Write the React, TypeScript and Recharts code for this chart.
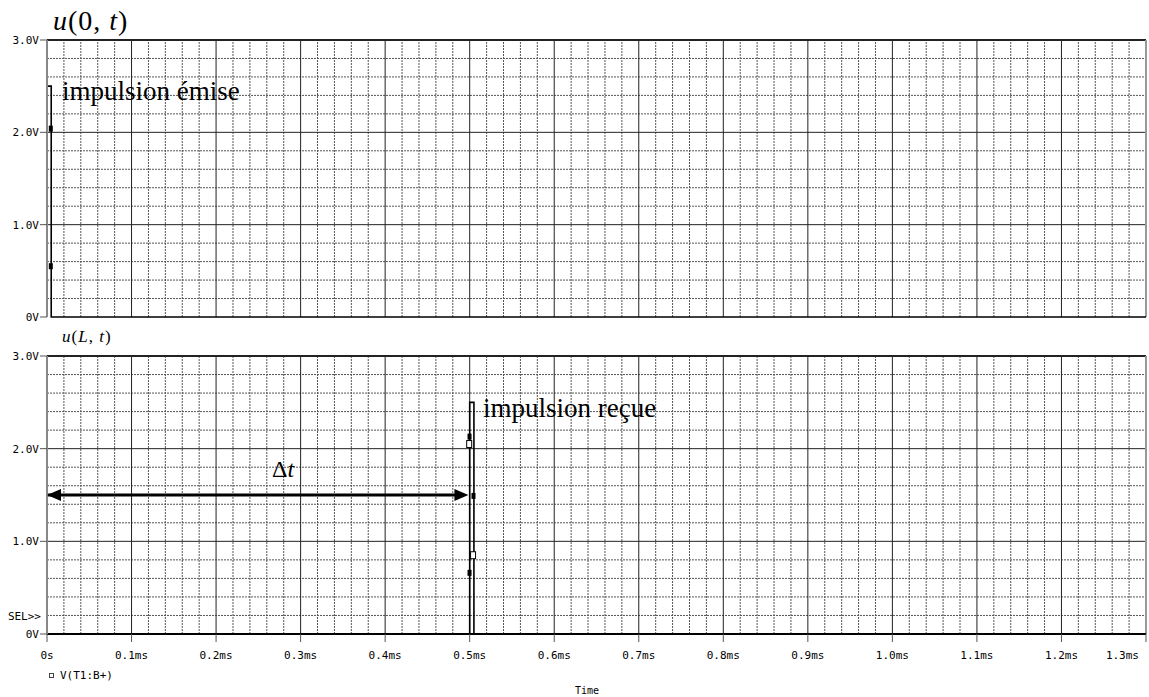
import React from "react";
import {
  ComposedChart,
  Line,
  Scatter,
  XAxis,
  YAxis,
  ReferenceLine,
} from "recharts";

// time axis (ms) and voltage axis (V)
const timeTicks = [0, 0.1, 0.2, 0.3, 0.4, 0.5, 0.6, 0.7, 0.8, 0.9, 1.0, 1.1, 1.2, 1.3];
const voltTicks = [0, 1, 2, 3];
const timeLabels = ["0s", "0.1ms", "0.2ms", "0.3ms", "0.4ms", "0.5ms", "0.6ms", "0.7ms", "0.8ms", "0.9ms", "1.0ms", "1.1ms", "1.2ms", "1.3ms"];
const voltLabels = ["0V", "1.0V", "2.0V", "3.0V"];

// u(0,t) : emitted pulse
const emisT = [0, 0, 0.005, 0.005, 1.3];
const emisV = [0, 2.5, 2.5, 0, 0];
// u(L,t) : received pulse
const recuT = [0, 0.5, 0.5, 0.505, 0.505, 1.3];
const recuV = [0, 0, 2.5, 2.5, 0, 0];

// trace markers
const emisMarkT = [0.0045, 0.0045];
const emisMarkV = [2.04, 0.55];
const emisMarkFilled = [true, true];
const recuMarkT = [0.4998, 0.4994, 0.5045, 0.504, 0.4998];
const recuMarkV = [2.13, 2.05, 1.49, 0.85, 0.66];
const recuMarkFilled = [true, false, true, false, true];

// delta t arrow
const arrowT = [0, 0.4985];
const arrowV = [1.5, 1.5];
const arrowDir = ["left", "right"];

const W = 1149;
const mono = "'DejaVu Sans Mono', monospace";
const serif = "'Liberation Serif', 'Times New Roman', serif";

// minor grid: 5 subdivisions per major step
const minorOf = (major: number[]) => {
  const out: number[] = [];
  for (let i = 0; i < major.length - 1; i++) {
    const step = (major[i + 1] - major[i]) / 5;
    for (let k = 1; k < 5; k++) out.push(+(major[i] + k * step).toFixed(4));
  }
  return out;
};
const timeMinor = minorOf(timeTicks);
const voltMinor = minorOf(voltTicks);
const timeMajorInner = timeTicks.slice(1, -1);
const voltMajorInner = voltTicks.slice(1, -1);

const toPoints = (ts: number[], vs: number[]) => ts.map((t, i) => ({ t, v: vs[i] }));

const MarkerShape = (props: any) => {
  const { cx, cy, payload } = props;
  if (cx == null || cy == null) return null;
  return payload.filled ? (
    <rect x={cx - 2} y={cy - 3} width={4} height={6} fill="#000" />
  ) : (
    <rect x={cx - 2.5} y={cy - 3.5} width={5} height={7} fill="#fff" stroke="#000" strokeWidth={1} />
  );
};

const ArrowHead = (props: any) => {
  const { cx, cy, payload } = props;
  if (cx == null || cy == null) return null;
  const s = payload.dir === "left" ? 1 : -1;
  return <polygon points={`${cx},${cy} ${cx + s * 14},${cy - 6} ${cx + s * 14},${cy + 6}`} fill="#000" />;
};

const YTick = (props: any) => {
  const { x, y, payload } = props;
  const idx = voltTicks.indexOf(payload.value);
  return (
    <text x={x} y={y} dy={4} textAnchor="end" fontFamily={mono} fontSize={11} fill="#000">
      {voltLabels[idx]}
    </text>
  );
};

const XTick = (props: any) => {
  const { x, y, payload } = props;
  const idx = timeTicks.indexOf(payload.value);
  const last = idx === timeTicks.length - 1;
  return (
    <text x={x} y={y} dy={11} textAnchor={last ? "end" : "middle"} fontFamily={mono} fontSize={11} fill="#000">
      {timeLabels[idx]}
    </text>
  );
};

function Panel({
  height,
  margin,
  trace,
  marks,
  showTime,
  arrow,
}: {
  height: number;
  margin: { top: number; right: number; bottom: number; left: number };
  trace: { t: number; v: number }[];
  marks: { t: number; v: number; filled: boolean }[];
  showTime: boolean;
  arrow?: boolean;
}) {
  return (
    <ComposedChart width={W} height={height} margin={margin}>
      <XAxis
        type="number"
        dataKey="t"
        domain={[0, 1.3]}
        ticks={timeTicks}
        allowDataOverflow
        height={showTime ? 30 : 0}
        tick={showTime ? <XTick /> : false}
        tickSize={8}
        tickMargin={6}
        tickLine={showTime ? { stroke: "#555" } : false}
        axisLine={{ stroke: "#000", strokeWidth: 2 }}
      />
      <YAxis
        type="number"
        dataKey="v"
        domain={[0, 3]}
        ticks={voltTicks}
        width={47}
        tick={<YTick />}
        tickSize={7}
        tickMargin={1}
        tickLine={{ stroke: "#555" }}
        axisLine={{ stroke: "#888", strokeWidth: 2 }}
      />
      {timeMinor.map((t) => (
        <ReferenceLine key={"tm" + t} x={t} stroke="#555" strokeDasharray="2 1" />
      ))}
      {voltMinor.map((v) => (
        <ReferenceLine key={"vm" + v} y={v} stroke="#555" strokeDasharray="2 1" />
      ))}
      {timeMajorInner.map((t) => (
        <ReferenceLine key={"tM" + t} x={t} stroke="#222" />
      ))}
      {voltMajorInner.map((v) => (
        <ReferenceLine key={"vM" + v} y={v} stroke="#222" />
      ))}
      <ReferenceLine y={3} stroke="#222" strokeWidth={2} />
      <ReferenceLine x={1.3} stroke="#999" strokeWidth={2} />
      <Line
        data={trace}
        dataKey="v"
        type="linear"
        stroke="#000"
        strokeWidth={1.6}
        dot={false}
        isAnimationActive={false}
      />
      {arrow && (
        <Line
          data={toPoints([0, 0.49], arrowV)}
          dataKey="v"
          type="linear"
          stroke="#000"
          strokeWidth={3}
          dot={false}
          isAnimationActive={false}
        />
      )}
      {arrow && (
        <Scatter
          data={arrowT.map((t, i) => ({ t, v: arrowV[i], dir: arrowDir[i] }))}
          dataKey="v"
          shape={<ArrowHead />}
          isAnimationActive={false}
        />
      )}
      <Scatter data={marks} dataKey="v" shape={<MarkerShape />} isAnimationActive={false} />
    </ComposedChart>
  );
}

export default function App() {
  const emis = toPoints(emisT, emisV);
  const recu = toPoints(recuT, recuV);
  const emisMarks = emisMarkT.map((t, i) => ({ t, v: emisMarkV[i], filled: emisMarkFilled[i] }));
  const recuMarks = recuMarkT.map((t, i) => ({ t, v: recuMarkV[i], filled: recuMarkFilled[i] }));

  return (
    <div style={{ position: "absolute", left: 0, top: 0, width: W, height: 697, background: "#fff" }}>
      <div style={{ position: "absolute", left: 0, top: 0 }}>
        <Panel
          height={330}
          margin={{ top: 40, right: 3, bottom: 13, left: 0 }}
          trace={emis}
          marks={emisMarks}
          showTime={false}
        />
      </div>
      <div style={{ position: "absolute", left: 0, top: 330 }}>
        <Panel
          height={367}
          margin={{ top: 26, right: 3, bottom: 33, left: 0 }}
          trace={recu}
          marks={recuMarks}
          showTime={true}
          arrow
        />
      </div>
      <svg
        width={W}
        height={697}
        style={{ position: "absolute", left: 0, top: 0, pointerEvents: "none" }}
      >
        <text x={53} y={30} fontFamily={serif} fontSize={28} fill="#000" letterSpacing={1}>
          <tspan fontStyle="italic">u</tspan>
          <tspan>(0, </tspan>
          <tspan fontStyle="italic">t</tspan>
          <tspan>)</tspan>
        </text>
        <text x={62} y={342} fontFamily={serif} fontSize={17} fill="#000" letterSpacing={1}>
          <tspan fontStyle="italic">u</tspan>
          <tspan>(</tspan>
          <tspan fontStyle="italic">L</tspan>
          <tspan>, </tspan>
          <tspan fontStyle="italic">t</tspan>
          <tspan>)</tspan>
        </text>
        <text x={62} y={100} fontFamily={serif} fontSize={27} fill="#000">
          impulsion émise
        </text>
        <text x={483} y={417} fontFamily={serif} fontSize={27} fill="#000">
          impulsion reçue
        </text>
        <text x={272} y={477} fontFamily={serif} fontSize={24} fill="#000">
          <tspan>Δ</tspan>
          <tspan fontStyle="italic">t</tspan>
        </text>
        <text x={41} y={620} textAnchor="end" fontFamily={mono} fontSize={11} fill="#000">
          SEL&gt;&gt;
        </text>
        <rect x={49.5} y={673.5} width={4} height={4} fill="#fff" stroke="#444" strokeWidth={1} />
        <text x={60} y={679} fontFamily={mono} fontSize={11} fill="#000">
          V(T1:B+)
        </text>
        <text x={587} y={694} textAnchor="middle" fontFamily={mono} fontSize={10} fill="#000">
          Time
        </text>
      </svg>
    </div>
  );
}
